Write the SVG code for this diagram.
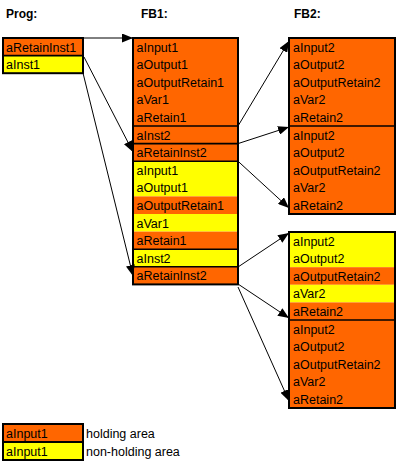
<svg xmlns="http://www.w3.org/2000/svg" width="405" height="471" viewBox="0 0 405 471">
<style>
text{font-family:"Liberation Sans",Arial,sans-serif;font-size:12.5px;fill:#000}
.h{font-weight:bold;font-size:12px}
.o{fill:#FF6600}
.y{fill:#FFFF00}
.frame{fill:none;stroke:#000;stroke-width:2}
.sep{stroke:#000;stroke-width:1.6}
.conn line{stroke:#000;stroke-width:1}
</style>
<defs>
<marker id="ah" markerUnits="userSpaceOnUse" markerWidth="11" markerHeight="9" refX="11" refY="4.5" orient="auto">
<path d="M0,0 L11,4.5 L0,9 z" fill="#000"/>
</marker>
</defs>
<rect width="405" height="471" fill="#fff"/>
<text class="h" x="6" y="18">Prog:</text>
<text class="h" x="141" y="18">FB1:</text>
<text class="h" x="294" y="18">FB2:</text>

<g id="prog">
<rect class="o" x="3" y="38" width="80" height="17.6"/>
<rect class="y" x="3" y="55.6" width="80" height="17.6"/>
<line class="sep" x1="3" y1="55.6" x2="83" y2="55.6"/>
<rect class="frame" x="3" y="38" width="80" height="35.2"/>
<text x="6" y="51.5">aRetainInst1</text>
<text x="6" y="69">aInst1</text>
</g>

<g id="fb1">
<rect class="o" x="133" y="38" width="105" height="123.2"/>
<rect class="y" x="133" y="161.2" width="105" height="35.2"/>
<rect class="o" x="133" y="196.4" width="105" height="17.6"/>
<rect class="y" x="133" y="214" width="105" height="17.6"/>
<rect class="o" x="133" y="231.6" width="105" height="17.6"/>
<rect class="y" x="133" y="249.2" width="105" height="17.6"/>
<rect class="o" x="133" y="266.8" width="105" height="17.6"/>
<line class="sep" x1="133" y1="126" x2="238" y2="126"/>
<line class="sep" x1="133" y1="143.6" x2="238" y2="143.6"/>
<line class="sep" x1="133" y1="161.2" x2="238" y2="161.2"/>
<line class="sep" x1="133" y1="249.2" x2="238" y2="249.2"/>
<line class="sep" x1="133" y1="266.8" x2="238" y2="266.8"/>
<rect class="frame" x="133" y="38" width="105" height="246.4"/>
<text x="136.5" y="51.5">aInput1</text>
<text x="136.5" y="69.1">aOutput1</text>
<text x="136.5" y="86.7">aOutputRetain1</text>
<text x="136.5" y="104.3">aVar1</text>
<text x="136.5" y="121.9">aRetain1</text>
<text x="136.5" y="139.5">aInst2</text>
<text x="136.5" y="157.1">aRetainInst2</text>
<text x="136.5" y="174.7">aInput1</text>
<text x="136.5" y="192.3">aOutput1</text>
<text x="136.5" y="209.9">aOutputRetain1</text>
<text x="136.5" y="227.5">aVar1</text>
<text x="136.5" y="245.1">aRetain1</text>
<text x="136.5" y="262.7">aInst2</text>
<text x="136.5" y="280.3">aRetainInst2</text>
</g>

<g id="fb2-retain">
<rect class="o" x="289" y="38" width="106" height="176"/>
<line class="sep" x1="289" y1="126" x2="395" y2="126"/>
<rect class="frame" x="289" y="38" width="106" height="176"/>
<text x="293" y="51.5">aInput2</text>
<text x="293" y="69.1">aOutput2</text>
<text x="293" y="86.7">aOutputRetain2</text>
<text x="293" y="104.3">aVar2</text>
<text x="293" y="121.9">aRetain2</text>
<text x="293" y="139.5">aInput2</text>
<text x="293" y="157.1">aOutput2</text>
<text x="293" y="174.7">aOutputRetain2</text>
<text x="293" y="192.3">aVar2</text>
<text x="293" y="209.9">aRetain2</text>
</g>

<g id="fb2-nonretain">
<rect class="y" x="289" y="232" width="106" height="35.2"/>
<rect class="o" x="289" y="267.2" width="106" height="17.6"/>
<rect class="y" x="289" y="284.8" width="106" height="17.6"/>
<rect class="o" x="289" y="302.4" width="106" height="105.6"/>
<line class="sep" x1="289" y1="320" x2="395" y2="320"/>
<rect class="frame" x="289" y="232" width="106" height="176"/>
<text x="293" y="245.5">aInput2</text>
<text x="293" y="263.1">aOutput2</text>
<text x="293" y="280.7">aOutputRetain2</text>
<text x="293" y="298.3">aVar2</text>
<text x="293" y="315.9">aRetain2</text>
<text x="293" y="333.5">aInput2</text>
<text x="293" y="351.1">aOutput2</text>
<text x="293" y="368.7">aOutputRetain2</text>
<text x="293" y="386.3">aVar2</text>
<text x="293" y="403.9">aRetain2</text>
</g>

<g id="legend-holding">
<rect class="o" x="3" y="424" width="80" height="18"/>
<rect class="frame" x="3" y="424" width="80" height="18"/>
<text x="6" y="437.5">aInput1</text>
<text x="86" y="437.5">holding area</text>
</g>
<g id="legend-nonholding">
<rect class="y" x="3" y="442" width="80" height="18"/>
<rect class="frame" x="3" y="442" width="80" height="18"/>
<text x="6" y="455.5">aInput1</text>
<text x="86" y="455.5">non-holding area</text>
</g>

<g id="connectors" class="conn">
<line x1="83" y1="38" x2="133" y2="38" marker-end="url(#ah)"/>
<line x1="84" y1="57" x2="133" y2="152" marker-end="url(#ah)"/>
<line x1="83" y1="73" x2="133" y2="276" marker-end="url(#ah)"/>
<line x1="238" y1="126" x2="289" y2="41" marker-end="url(#ah)"/>
<line x1="238" y1="143.6" x2="289" y2="127" marker-end="url(#ah)"/>
<line x1="238" y1="161.2" x2="289" y2="208" marker-end="url(#ah)"/>
<line x1="238" y1="267" x2="289" y2="233" marker-end="url(#ah)"/>
<line x1="238" y1="284" x2="289" y2="318" marker-end="url(#ah)"/>
<line x1="238" y1="287" x2="289" y2="401" marker-end="url(#ah)"/>
</g>
</svg>
